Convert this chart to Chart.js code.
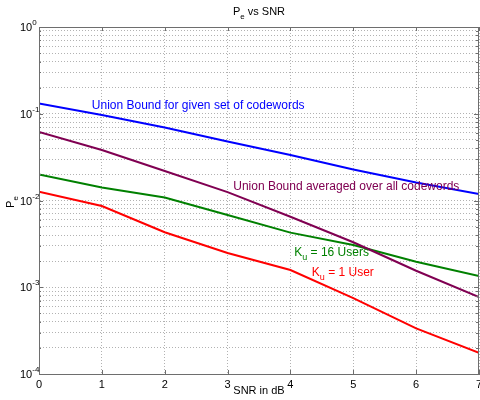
<!DOCTYPE html>
<html>
<head>
<meta charset="utf-8">
<script src="https://cdn.jsdelivr.net/npm/chart.js@4.4.1/dist/chart.umd.min.js"></script>
<style>
  body { margin: 0; background: #fff; }
  canvas { display: block; }
</style>
</head>
<body>
<canvas id="myChart" width="480" height="400"></canvas>
<script>
// Pe vs SNR

const snrDb = [0, 1, 2, 3, 4, 5, 6, 7];
const unionGiven = [0.131, 0.0968, 0.0695, 0.048, 0.0335, 0.0228, 0.0161, 0.0119];
const unionAvg = [0.0616, 0.0382, 0.0219, 0.0125, 0.0065, 0.0033, 0.00155, 0.00077];
const ku16 = [0.0199, 0.0141, 0.0108, 0.0068, 0.00426, 0.00307, 0.00197, 0.00135];
const ku1 = [0.0126, 0.00865, 0.0043, 0.00248, 0.00158, 0.00075, 0.000336, 0.000176];
const yDecades = [-4, -3, -2, -1, 0]; // tick labels 10^k

const FONT = "'Liberation Sans', Arial, sans-serif";
const BLUE = '#0000ff', PURPLE = 'rgb(128,0,82)', GREEN = '#008000', RED = '#ff0000';

// text labels placed in data coordinates (like matlab text())
const curveLabels = [
    { x: 0.84, y: 0.123, color: BLUE, parts: [['Union Bound for given set of codewords', 0]] },
    { x: 3.09, y: 0.0143, color: PURPLE, parts: [['Union Bound averaged over all codewords', 0]] },
    { x: 4.06, y: 0.00248, color: GREEN, parts: [['K', 0], ['u', 1], [' = 16 Users', 0]] },
    { x: 4.34, y: 0.00146, color: RED, parts: [['K', 0], ['u', 1], [' = 1 User', 0]] }
];

function points(arr) {
    return snrDb.map((x, i) => ({ x: x, y: arr[i] }));
}

// all 1..9 x 10^k positions for the log grid
const logTicks = [];
for (let k = -4; k < 0; k++) {
    for (let m = 1; m < 10; m++) logTicks.push(m * Math.pow(10, k));
}
logTicks.push(1);

function drawParts(ctx, parts, x, y, size) {
    parts.forEach(p => {
        const sub = p[1] === 1;
        ctx.font = (sub ? Math.round(size * 0.75) : size) + 'px ' + FONT;
        ctx.fillText(p[0], x, sub ? y + size * 0.4 : y);
        x += ctx.measureText(p[0]).width;
    });
}

function partsWidth(ctx, parts, size) {
    let w = 0;
    parts.forEach(p => {
        ctx.font = (p[1] === 1 ? Math.round(size * 0.75) : size) + 'px ' + FONT;
        w += ctx.measureText(p[0]).width;
    });
    return w;
}

const matlabAxes = {
    id: 'matlabAxes',
    afterDraw(chart) {
        const ctx = chart.ctx;
        const a = chart.chartArea;
        const xs = chart.scales.x, ys = chart.scales.y;
        ctx.save();

        // box
        ctx.strokeStyle = '#6e6e6e';
        ctx.lineWidth = 1;
        ctx.strokeRect(Math.round(a.left) + 0.5, Math.round(a.top) + 0.5,
            Math.round(a.right - a.left) - 1, Math.round(a.bottom - a.top));

        // inward tick marks
        ctx.beginPath();
        snrDb.forEach(v => {
            const px = Math.round(xs.getPixelForValue(v)) + 0.5;
            ctx.moveTo(px, a.top); ctx.lineTo(px, a.top + 4);
            ctx.moveTo(px, a.bottom); ctx.lineTo(px, a.bottom - 4);
        });
        logTicks.forEach(v => {
            const py = Math.round(ys.getPixelForValue(v)) + 0.5;
            const len = Math.abs(Math.log10(v) - Math.round(Math.log10(v))) < 1e-9 ? 4 : 2;
            ctx.moveTo(a.left, py); ctx.lineTo(a.left + len, py);
            ctx.moveTo(a.right - 1, py); ctx.lineTo(a.right - 1 - len, py);
        });
        ctx.stroke();

        // y tick labels 10^k
        ctx.fillStyle = '#000';
        ctx.textBaseline = 'middle';
        ctx.textAlign = 'left';
        yDecades.forEach(k => {
            const py = ys.getPixelForValue(Math.pow(10, k));
            ctx.font = '11px ' + FONT;
            ctx.fillText('10', 20, py + 1);
            const w = ctx.measureText('10').width;
            ctx.font = '8px ' + FONT;
            ctx.fillText(k === 0 ? '0' : '-' + (-k), 20 + w, py - 4);
        });

        // title
        const tParts = [['P', 0], ['e', 1], [' vs SNR', 0]];
        const tw = partsWidth(ctx, tParts, 11);
        drawParts(ctx, tParts, (a.left + a.right) / 2 - tw / 2, 12, 11);

        // x label
        ctx.font = '11px ' + FONT;
        ctx.textAlign = 'center';
        ctx.fillText('SNR in dB', (a.left + a.right) / 2, 391);

        // y label, rotated
        ctx.save();
        ctx.translate(11, 202);
        ctx.rotate(-Math.PI / 2);
        ctx.textAlign = 'left';
        const yParts = [['P', 0], ['e', 1]];
        drawParts(ctx, yParts, -partsWidth(ctx, yParts, 11) / 2, 0, 11);
        ctx.restore();

        // curve labels
        ctx.textAlign = 'left';
        curveLabels.forEach(l => {
            ctx.fillStyle = l.color;
            drawParts(ctx, l.parts, xs.getPixelForValue(l.x), ys.getPixelForValue(l.y), 12);
        });

        ctx.restore();
    }
};

const gridStyle = { color: 'rgba(0,0,0,0.3)', drawTicks: false, lineWidth: 1 };

const ctx = document.getElementById('myChart');
const myChart = new Chart(ctx, {
    type: 'line',
    data: {
        datasets: [
            { data: points(unionGiven), borderColor: BLUE },
            { data: points(unionAvg), borderColor: PURPLE },
            { data: points(ku16), borderColor: GREEN },
            { data: points(ku1), borderColor: RED }
        ].map(d => Object.assign(d, { borderWidth: 2, pointRadius: 0, tension: 0, fill: false }))
    },
    options: {
        responsive: false,
        animation: false,
        layout: { padding: { top: 27, right: 1, left: 0, bottom: 0 } },
        plugins: {
            legend: { display: false },
            tooltip: { enabled: false }
        },
        scales: {
            x: {
                type: 'linear',
                min: 0,
                max: 7,
                ticks: { stepSize: 1, padding: 4, color: '#000', font: { size: 11, family: FONT } },
                grid: gridStyle,
                border: { color: '#6e6e6e', dash: [1, 2] },
                afterFit: s => { s.height = 26; s.paddingLeft = 0; s.paddingRight = 0; }
            },
            y: {
                type: 'logarithmic',
                min: 1e-4,
                max: 1,
                ticks: { display: false },
                afterBuildTicks: s => { s.ticks = logTicks.map(v => ({ value: v })); },
                grid: gridStyle,
                border: { color: '#6e6e6e', dash: [1, 2] },
                afterFit: s => { s.width = 39; s.paddingTop = 0; s.paddingBottom = 0; }
            }
        }
    },
    plugins: [matlabAxes]
});
</script>
</body>
</html>
